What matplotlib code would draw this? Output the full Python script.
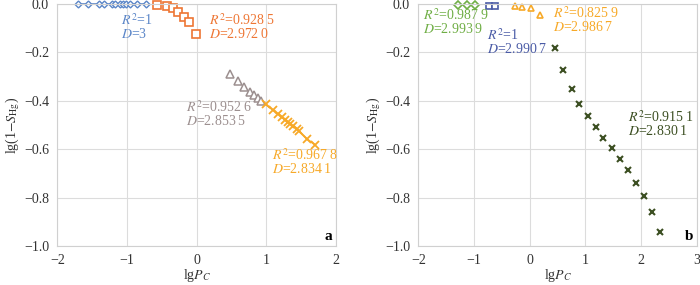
import matplotlib
matplotlib.use("Agg")
import matplotlib.pyplot as plt

plt.rcParams["font.family"] = ["Liberation Serif", "DejaVu Serif"]
plt.rcParams["mathtext.fontset"] = "stix"

# ---- panel a ----
a_blue_x = [-1.70, -1.56, -1.40, -1.33, -1.22, -1.17, -1.10, -1.06, -1.01, -0.95, -0.85, -0.73]
a_blue_y = [0.0] * 12
a_org_x = [-0.565, -0.42, -0.335, -0.264, -0.178, -0.11, -0.014]
a_org_y = [-0.004, -0.008, -0.018, -0.034, -0.053, -0.076, -0.123]
a_gray_x = [0.478, 0.597, 0.683, 0.765, 0.826, 0.875, 0.922]
a_gray_y = [-0.290, -0.319, -0.342, -0.363, -0.377, -0.390, -0.402]
a_yel_x = [0.990, 1.099, 1.171, 1.220, 1.267, 1.306, 1.339, 1.386, 1.435, 1.468, 1.587, 1.697]
a_yel_y = [-0.415, -0.439, -0.455, -0.467, -0.478, -0.487, -0.494, -0.505, -0.515, -0.525, -0.559, -0.581]

# ---- panel b ----
b_grn_x = [-1.28, -1.13, -0.98]
b_grn_y = [-0.004, -0.004, -0.004]
b_blue_x = [-0.725, -0.623]
b_blue_y = [-0.008, -0.008]
b_org_x = [-0.264, -0.133, 0.018, 0.185]
b_org_y = [-0.008, -0.011, -0.018, -0.046]
b_dk_x = [0.454, 0.603, 0.754, 0.890, 1.041, 1.185, 1.321, 1.472, 1.621, 1.759, 1.903, 2.052, 2.201, 2.339]
b_dk_y = [-0.183, -0.273, -0.352, -0.415, -0.464, -0.508, -0.552, -0.595, -0.639, -0.687, -0.740, -0.795, -0.860, -0.944]

BLUE = "#5B86C8"
ORANGE = "#EE7634"
GRAY = "#9C8F8F"
YELLOW = "#F7A928"
GREEN = "#6FAE45"
NAVY = "#4A5BA6"
DKGREEN = "#3C4F22"

fig = plt.figure(figsize=(7, 2.85), dpi=100)
ax1 = fig.add_axes([0.0819, 0.137, 0.398, 0.849])
ax2 = fig.add_axes([0.5976, 0.137, 0.3977, 0.849])


def style(ax, xmin, xmax):
    ax.set_xlim(xmin, xmax)
    ax.set_ylim(-1.0, 0.0)
    ax.set_xticks(range(xmin, xmax + 1))
    ax.set_yticks([0.0, -0.2, -0.4, -0.6, -0.8, -1.0])
    ax.set_yticklabels(["0.0", "\u22120.2", "\u22120.4", "\u22120.6", "\u22120.8", "\u22121.0"])
    ax.set_xticklabels([str(v).replace("-", "\u2212") for v in range(xmin, xmax + 1)])
    ax.grid(True, color="#DCDCDC", lw=0.8)
    ax.set_axisbelow(True)
    for s in ax.spines.values():
        s.set_color("#D0D0D0")
        s.set_linewidth(0.8)
    ax.tick_params(length=0, labelsize=10, colors="#333333", pad=6)
    ax.set_xlabel(r"lg$P_C$", fontsize=10, color="#333333", labelpad=0)
    ax.set_ylabel(r"lg(1$-$$S_{\rm Hg}$)", fontsize=10, color="#333333", labelpad=1)


def lab(ax, x, y, r2, d, color):
    ax.text(x, y, r"$R^2$=" + r2, color=color, fontsize=10, va="center", ha="left")
    ax.text(x, y - 0.056, r"$D$=" + d, color=color, fontsize=10, va="center", ha="left")


style(ax1, -2, 2)
ax1.plot(a_blue_x, a_blue_y, "-D", color=BLUE, mfc="white", ms=3.5, lw=1.2, mew=1.0, clip_on=False)
ax1.plot(a_org_x, a_org_y, "s", color=ORANGE, mfc="white", ms=5.5, mew=1.2, clip_on=False)
ax1.plot(a_gray_x, a_gray_y, "^", color=GRAY, mfc="white", ms=5.5, mew=1.1)
ax1.plot(a_yel_x, a_yel_y, "-x", color=YELLOW, ms=5.5, lw=1.2, mew=1.3)
lab(ax1, -1.08, -0.066, "1", "3", BLUE)
lab(ax1, 0.18, -0.066, "0.928\u20095", "2.972\u20090", ORANGE)
lab(ax1, -0.15, -0.428, "0.952\u20096", "2.853\u20095", GRAY)
lab(ax1, 1.08, -0.625, "0.967\u20098", "2.834\u20091", YELLOW)
ax1.text(1.95, -0.96, "a", fontsize=11, fontweight="bold", ha="right", va="center")

style(ax2, -2, 3)
ax2.plot(b_grn_x, b_grn_y, "D", color=GREEN, mfc="white", ms=4, mew=1.2, clip_on=False)
ax2.plot(b_blue_x, b_blue_y, "s", color=NAVY, mfc="white", ms=5, mew=1.2, clip_on=False)
ax2.plot(b_org_x, b_org_y, "^", color=YELLOW, mfc="white", ms=5, mew=1.2, clip_on=False)
ax2.plot(b_dk_x, b_dk_y, "x", color=DKGREEN, ms=5, mew=1.5)
lab(ax2, -1.92, -0.046, "0.987\u20099", "2.993\u20099", GREEN)
lab(ax2, -0.76, -0.13, "1", "2.990\u20097", NAVY)
lab(ax2, 0.42, -0.039, "0.825\u20099", "2.986\u20097", YELLOW)
lab(ax2, 1.77, -0.469, "0.915\u20091", "2.830\u20091", DKGREEN)
ax2.text(2.93, -0.96, "b", fontsize=11, fontweight="bold", ha="right", va="center")

fig.savefig("out.png", dpi=100)
